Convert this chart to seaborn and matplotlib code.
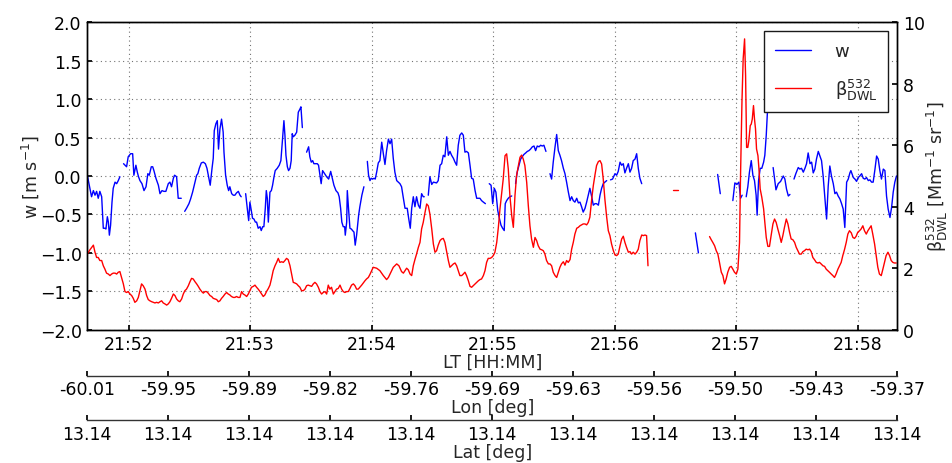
import numpy as np
import pandas as pd
import matplotlib
matplotlib.use("Agg")
import matplotlib.pyplot as plt
from matplotlib.lines import Line2D
import seaborn as sns

nan = np.nan

# vertical wind w [m s-1]; time in seconds after 21:51:00 LT, NaN marks a data gap
w_time = [
    39.6, 41.7, 42.6, 43.4, 44.2, 45.0, 45.8, 46.7, 47.5, 48.3, 48.8, 49.5, 50.0, 50.5, 51.1, 51.8,
    52.4, 53.3, 54.1, 54.9, 55.7, 56.6,
    57.5, 59.0, 59.8, 61.0, 62.0, 62.6, 63.6, 64.3, 64.9, 65.6, 66.6, 67.6, 68.6, 69.5, 70.2, 71.2,
    71.9, 72.5, 73.5, 74.7, 75.5, 76.5, 77.4, 78.4, 79.6, 80.4, 81.2, 82.1, 82.7, 83.7, 84.5, 85.3,
    86.0, 86.8,
    87.7, 88.6, 89.8, 90.6, 91.6, 92.6, 93.6, 94.2, 94.9, 95.9, 96.9, 97.9, 98.7, 99.5, 100.3, 101.2,
    101.8, 102.3, 103.1, 103.8, 104.4, 105.1, 105.9, 106.7, 107.1, 107.9, 108.7, 109.4, 110.0, 110.9,
    111.7, 112.5, 113.3, 114.2, 115.0, 115.6, 116.7,
    117.8, 118.6, 119.3, 119.9, 120.6, 121.2, 121.9, 122.6, 123.2, 124.0, 124.9, 125.5, 126.2, 126.8,
    127.5, 128.0, 128.5, 129.0, 129.8, 130.5, 131.1, 131.8, 132.4, 133.4, 134.4, 135.2, 135.9, 136.7,
    137.2, 137.7, 138.4, 139.0, 139.7, 140.3, 140.8, 141.3, 142.1, 143.0, 143.8, 144.6, 145.1, 145.8,
    146.8,
    147.9, 148.9, 149.5, 150.2, 150.9, 151.5, 152.2, 153.2, 153.8, 154.5, 155.1, 155.8, 156.8, 157.8,
    158.8, 159.8, 160.6, 161.4, 162.4, 163.4, 164.0, 164.7, 165.3, 166.0, 166.7, 167.0, 167.7, 168.0,
    168.6, 169.3, 170.0, 170.6, 171.3, 171.9, 172.6, 173.6, 174.2, 175.2, 176.2, 177.0,
    177.9, 178.5, 179.2, 179.8, 180.5, 181.2, 181.8, 182.5, 183.3, 184.1, 185.0, 185.8, 186.6, 187.4,
    188.3, 189.1, 189.9, 190.7, 191.5, 192.4, 194.0, 194.8, 195.7, 196.5, 197.6, 198.3, 199.1, 199.8,
    200.6, 201.4, 202.2, 203.1, 203.9, 204.7, 205.5, 206.0, 207.0,
    208.0, 208.8, 209.7, 210.5, 212.1, 212.9, 213.8, 214.6, 215.4, 216.2, 217.1, 217.9, 218.7, 219.5,
    220.4, 221.2, 222.0, 222.8, 223.6, 224.5, 225.3, 226.1, 226.9, 227.8, 228.6, 229.4, 230.2, 231.1,
    231.9, 232.7, 233.5, 234.3, 235.2, 236.2, 237.1,
    238.1, 239.0, 239.8, 240.6, 241.4, 242.3, 243.1, 243.9, 244.7, 245.5, 246.0, 246.7, 247.5, 248.3,
    249.2, 250.1,
    251.1, 251.9, 252.8, 253.6, 254.4, 255.2, 256.1, 256.9, 257.7, 258.5, 259.4, 260.2, 261.0, 261.8,
    262.7, 263.5, 264.3, 265.1, 266.1, 267.1,
    268.1, 268.9, 269.7, 270.6, 271.4, 272.2, 273.0, 273.8, 274.7, 275.5, 276.3, 277.1, 278.0, 278.8,
    279.6, 280.4, 281.3, 282.1, 282.9, 283.7, 284.5, 285.4, 286.2, 287.0, 287.8, 288.7, 289.5, 290.3,
    291.1, 292.0, 292.8, 293.6, 294.4, 295.2, 296.1, 297.0,
    298.0, 299.0, 300.2, 301.0, 301.8, 302.7, 303.5, 304.3, 305.1, 305.9, 306.8, 307.6, 308.4, 309.2,
    310.1, 310.9, 311.7, 312.5, 313.4, 320.0,
    339.9, 341.4, 346.0,
    350.9, 352.2, 355.0,
    358.4, 359.4, 360.4, 361.4, 362.2, 363.0, 364.0,
    365.0, 365.8, 366.6, 367.5, 368.3, 369.1, 369.9, 370.4, 371.1, 371.9, 372.7, 373.6, 374.2, 374.9,
    375.4, 376.0, 376.7, 377.5,
    378.3, 379.7, 380.8, 382.0, 383.3, 384.1, 384.9, 385.8, 386.6, 387.6,
    388.6, 389.5, 390.7, 391.5, 392.3, 393.2, 394.0, 394.8, 395.6, 396.5, 397.3, 398.1, 398.9, 399.7,
    400.6, 401.4, 402.2, 403.0, 403.9, 404.7, 405.5, 406.3, 407.1, 408.0, 408.8, 409.6, 410.4, 411.3,
    412.1, 412.9, 413.7, 414.6, 415.4, 416.2, 416.7, 417.9, 418.7, 419.5, 420.3, 421.1, 422.0, 422.8,
    423.6, 424.4, 425.3, 426.1, 426.9, 427.7, 428.6, 429.4, 430.2, 431.0, 431.8, 432.7, 433.5, 434.3,
    435.1, 436.0, 436.8, 437.6, 438.4, 439.2,
]
w_vals = [
    0.01, -0.27, -0.19, -0.25, -0.20, -0.29, -0.20, -0.27, -0.68, -0.68, -0.69, -0.53, -0.60, -0.77, -0.64, -0.34,
    -0.16, -0.08, -0.10, -0.06, -0.01, nan,
    0.16, 0.12, 0.25, 0.29, 0.29, 0.01, 0.14, 0.05, -0.01, -0.06, -0.10, -0.19, -0.14, 0.03, 0.01, 0.12,
    0.12, 0.07, -0.03, -0.12, -0.23, -0.19, -0.20, -0.20, -0.10, -0.08, -0.14, -0.03, 0.01, -0.01, -0.29, -0.29,
    -0.29, nan,
    -0.46, -0.42, -0.36, -0.30, -0.21, -0.10, 0.01, 0.03, 0.10, 0.17, 0.18, 0.16, 0.10, -0.01, -0.12, 0.10,
    0.23, 0.59, 0.68, 0.72, 0.35, 0.61, 0.74, 0.57, 0.31, 0.01, -0.12, -0.19, -0.14, -0.23,
    -0.25, -0.25, -0.22, -0.20, -0.25, -0.27, nan,
    -0.23, -0.42, -0.58, -0.34, -0.45, -0.55, -0.56, -0.60, -0.60, -0.68, -0.66, -0.71, -0.66, -0.66,
    -0.42, -0.19, -0.29, -0.60, -0.21, -0.19, -0.12, -0.01, 0.07, 0.10, 0.14, 0.20, 0.44, 0.72,
    0.53, 0.27, 0.12, 0.07, 0.10, 0.20, 0.55, 0.51, 0.53, 0.57, 0.83, 0.87, 0.90, 0.63,
    nan,
    0.31, 0.38, 0.25, 0.18, 0.20, 0.16, 0.16, 0.16, 0.14, 0.01, -0.10, 0.07, 0.03, -0.01,
    -0.04, 0.06, -0.03, -0.12, -0.19, -0.22, -0.27, -0.42, -0.60, -0.66, -0.66, -0.77, -0.60, -0.19,
    -0.42, -0.68, -0.69, -0.71, -0.73, -0.90, -0.77, -0.51, -0.40, -0.25, -0.14, nan,
    0.19, 0.01, -0.06, -0.03, -0.04, -0.03, -0.04, 0.05, 0.17, 0.20, 0.44, 0.29, 0.15, 0.33,
    0.48, 0.42, 0.48, 0.23, 0.05, -0.06, -0.10, -0.14, -0.29, -0.42, -0.42, -0.55, -0.68, -0.42,
    -0.27, -0.40, -0.27, -0.38, -0.42, -0.23, -0.27, -0.27, nan,
    -0.25, -0.01, -0.11, -0.08, -0.09, -0.06, 0.14, 0.16, 0.27, 0.25, 0.51, 0.27, 0.32, 0.27,
    0.23, 0.18, 0.14, 0.40, 0.53, 0.56, 0.53, 0.31, 0.32, 0.30, 0.14, -0.03, -0.04, -0.19,
    -0.29, -0.29, -0.29, -0.32, -0.34, -0.36, nan,
    -0.10, -0.12, -0.36, -0.16, -0.21, -0.45, -0.55, -0.64, -0.68, -0.71, -0.36, -0.32, -0.29, -0.27,
    -0.26, nan,
    -0.10, 0.05, 0.14, 0.22, 0.25, 0.28, 0.30, 0.32, 0.33, 0.35, 0.38, 0.39, 0.33, 0.39,
    0.38, 0.40, 0.39, 0.40, 0.32, nan,
    0.03, -0.04, 0.18, 0.38, 0.54, 0.33, 0.27, 0.20, 0.10, 0.03, -0.08, -0.20, -0.32, -0.27,
    -0.32, -0.34, -0.29, -0.35, -0.34, -0.40, -0.47, -0.42, -0.34, -0.25, -0.16, -0.27, -0.38, -0.36,
    -0.36, -0.38, -0.25, -0.16, -0.10, -0.08, -0.06, nan,
    -0.05, -0.04, 0.03, 0.01, 0.06, 0.18, 0.14, 0.16, 0.04, 0.10, 0.16, 0.05, 0.10, 0.20,
    0.22, 0.29, 0.10, -0.03, -0.10, nan,
    -0.74, -1.00, nan,
    0.02, -0.23, nan,
    -0.32, -0.09, -0.11, -0.08, -0.29, -0.25, nan,
    -0.27, -0.14, 0.05, 0.20, 0.01, -0.06, -0.25, -0.51, -0.06, 0.10, 0.10, 0.18, 0.27, 0.53,
    0.79, 1.09, 1.39, nan,
    0.11, -0.18, -0.10, -0.07, 0.00, -0.04, -0.17, -0.26, -0.24, nan,
    -0.04, 0.03, 0.11, 0.09, 0.10, 0.05, 0.10, 0.16, 0.30, 0.16, 0.18, 0.04, 0.09, 0.22,
    0.32, 0.26, 0.20, 0.00, -0.30, -0.56, -0.13, 0.13, 0.00, -0.10, -0.23, -0.21, -0.26, -0.30,
    -0.36, -0.43, -0.67, -0.08, -0.04, 0.04, 0.07, -0.02, -0.04, -0.07, -0.02, 0.00, 0.03, -0.03,
    -0.04, -0.02, -0.06, -0.05, -0.08, -0.08, 0.09, 0.26, 0.22, 0.07, -0.04, 0.09, 0.07, -0.26,
    -0.43, -0.54, -0.41, -0.21, -0.08, 0.00,
]

# backscatter beta_DWL at 532 nm [Mm-1 sr-1]
beta_time = [
    39.6, 40.9, 42.6, 43.4, 44.2, 45.0, 45.8, 46.7, 47.5, 48.3, 49.1, 50.0, 50.8, 51.6, 52.4, 53.3,
    54.1, 54.9, 55.7, 56.5, 57.4, 58.2, 59.0, 59.8, 60.7, 61.5, 62.3, 63.1, 64.0, 64.8, 65.6, 66.4,
    67.2, 68.1, 68.9, 69.7, 70.5, 71.4, 72.2, 73.0, 73.8, 74.7, 75.5, 76.3, 77.1, 77.9, 78.8, 79.6,
    80.4, 81.2, 82.1, 82.9, 83.7, 84.5, 85.3, 86.2, 87.0, 87.8, 88.6, 89.5, 90.3, 91.1, 91.9, 92.8,
    93.6, 94.4, 95.2, 96.1, 96.9, 97.7, 98.5, 99.3, 100.2, 101.0, 101.8, 102.6, 103.5, 104.3, 105.1,
    105.9, 106.7, 107.6, 108.4, 109.2, 110.0, 110.8, 111.7, 112.5, 113.3, 114.1, 115.0, 115.8, 116.6,
    117.4, 118.3, 119.1, 119.9, 120.7, 121.6, 122.4, 123.2, 124.0, 124.9, 125.7, 126.5, 127.3, 128.1,
    129.0, 129.8, 130.6, 131.4, 132.3, 133.1, 133.9, 134.7, 135.6, 136.4, 137.2, 138.0, 138.8, 139.7,
    140.5, 141.3, 142.1, 143.0, 143.8, 144.6, 145.4, 146.3, 147.1, 147.9, 148.7, 149.5, 150.4, 151.2,
    152.0, 152.8, 153.7, 154.5, 155.3, 156.1, 157.0, 157.8, 158.6, 159.4, 160.2, 161.1, 161.9, 162.7,
    163.5, 164.4, 165.2, 166.0, 166.8, 167.7, 168.5, 169.3, 170.1, 171.0, 171.8, 172.6, 173.4, 174.2,
    175.1, 175.9, 176.7, 177.5, 178.4, 179.2, 180.8, 182.5, 184.1, 185.8, 187.4, 188.3, 189.1, 190.7,
    192.4, 193.5, 194.8, 195.7, 196.5, 197.3, 198.1, 199.0, 199.8, 200.6, 201.4, 202.2, 203.1, 203.9,
    204.7, 205.5, 206.4, 207.2, 208.0, 208.8, 209.7, 210.5, 211.3, 212.1, 212.9, 213.8, 214.6, 215.4,
    216.2, 217.1, 217.9, 218.7, 219.5, 220.4, 221.2, 222.0, 222.8, 223.6, 224.5, 225.3, 226.1, 226.9,
    227.8, 228.6, 229.4, 230.2, 231.1, 231.9, 232.7, 233.5, 234.3, 235.2, 236.0, 236.8, 237.6, 238.5,
    239.3, 240.1, 240.9, 241.8, 242.6, 243.4, 244.2, 245.0, 245.9, 246.7, 247.5, 248.3, 249.2, 250.0,
    250.8, 251.6, 252.5, 253.3, 254.1, 254.9, 255.7, 256.6, 257.4, 258.2, 259.0, 259.9, 260.7, 261.5,
    262.3, 263.2, 264.0, 264.8, 265.6, 266.4, 267.3, 268.1, 268.9, 269.7, 270.6, 271.4, 272.2, 273.0,
    273.8, 274.7, 275.5, 276.3, 277.1, 278.0, 278.8, 279.6, 280.4, 281.3, 282.1, 282.9, 283.7, 284.5,
    285.4, 286.2, 287.0, 287.8, 288.7, 289.5, 290.3, 291.1, 292.0, 292.8, 293.6, 294.4, 295.2, 296.1,
    296.9, 297.7, 298.5, 299.4, 300.2, 301.0, 301.8, 302.7, 303.5, 304.3, 305.1, 305.9, 306.8, 307.6,
    308.4, 309.2, 310.1, 310.9, 311.7, 312.5, 313.4, 314.2, 315.0, 315.8, 316.5, 320.0,
    329.0, 331.5, 340.0,
    346.9, 347.7, 348.5, 349.4, 350.2, 351.0, 351.8, 352.7, 353.5, 354.3, 355.1, 355.9, 356.8, 357.6,
    358.4, 359.2, 360.1, 360.9, 361.7, 362.2, 362.9, 363.5, 364.2, 364.7, 365.2, 365.8, 366.3, 367.0,
    367.5, 368.0, 368.6, 369.1, 369.6, 370.1, 370.8, 371.3, 371.9, 372.7, 373.6, 374.2, 374.9, 375.7,
    376.5, 377.3, 378.2, 379.0, 379.8, 380.6, 381.5, 382.3, 383.1, 383.9, 384.8, 385.6, 386.4, 387.2,
    388.0, 388.9, 389.7, 390.5, 391.3, 392.2, 393.0, 393.8, 394.6, 395.5, 396.3, 397.1, 397.9, 398.7,
    399.6, 400.4, 401.2, 402.0, 402.9, 403.7, 404.5, 405.3, 406.1, 407.0, 407.8, 408.6, 409.4, 410.3,
    411.1, 411.9, 412.7, 413.6, 414.4, 415.2, 416.0, 416.9, 417.7, 418.5, 419.3, 420.1, 421.0, 421.8,
    422.6, 423.4, 424.3, 425.1, 425.9, 426.7, 427.5, 428.4, 429.2, 430.0, 430.8, 431.7, 432.5, 433.3,
    434.1, 435.0, 435.8, 436.6, 437.4, 438.2, 439.1,
]
beta_vals = [
    2.46, 2.60, 2.75, 2.52, 2.35, 2.35, 2.25, 2.25, 2.08, 1.97, 1.84, 1.81, 1.76, 1.81, 1.84, 1.84,
    1.81, 1.87, 1.89, 1.70, 1.49, 1.24, 1.21, 1.24, 1.16, 1.11, 1.02, 0.89, 0.94, 1.05, 1.27, 1.49,
    1.43, 1.32, 1.11, 0.98, 0.94, 0.91, 0.89, 0.87, 0.89, 0.87, 0.91, 0.94, 0.87, 0.84, 0.80, 0.84,
    0.91, 1.02, 1.16, 1.11, 1.00, 0.94, 0.91, 1.00, 1.16, 1.27, 1.32, 1.43, 1.56, 1.67, 1.65, 1.56,
    1.49, 1.41, 1.32, 1.24, 1.19, 1.24, 1.24, 1.19, 1.11, 1.08, 1.02, 1.00, 0.98, 0.91, 0.94,
    1.02, 1.08, 1.16, 1.21, 1.16, 1.13, 1.08, 1.05, 1.05, 1.08, 1.05, 1.05, 1.24, 1.16,
    1.13, 1.08, 1.16, 1.27, 1.38, 1.41, 1.45, 1.38, 1.32, 1.24, 1.16, 1.08, 1.13, 1.24,
    1.34, 1.45, 1.67, 1.92, 2.08, 2.19, 2.32, 2.19, 2.21, 2.19, 2.25, 2.32, 2.28, 2.08,
    1.81, 1.54, 1.52, 1.49, 1.43, 1.38, 1.27, 1.27, 1.32, 1.43, 1.45, 1.43, 1.41, 1.49,
    1.54, 1.49, 1.38, 1.24, 1.16, 1.21, 1.24, 1.16, 1.45, 1.32, 1.38, 1.16, 1.24, 1.32,
    1.34, 1.45, 1.32, 1.24, 1.21, 1.24, 1.24, 1.34, 1.45, 1.49, 1.43, 1.32, 1.32, 1.38,
    1.45, 1.52, 1.59, 1.65, 1.70, 1.80, 2.03, 2.00, 1.92, 1.76, 1.63, 1.70, 1.81, 2.03,
    2.14, 2.08, 1.89, 1.84, 1.92, 2.00, 1.95, 1.81, 1.76, 2.08, 2.28, 2.46, 2.68, 2.84,
    3.28, 3.49, 3.82, 4.09, 4.03, 3.76, 3.28, 2.79, 2.52, 2.57, 2.75, 2.90, 2.95, 2.97,
    2.84, 2.52, 2.25, 2.03, 2.08, 2.14, 2.17, 2.08, 1.92, 1.76, 1.76, 1.81, 1.87, 1.76,
    1.59, 1.41, 1.38, 1.43, 1.49, 1.54, 1.59, 1.63, 1.65, 1.76, 1.92, 2.19, 2.32, 2.32,
    2.35, 2.41, 2.52, 2.84, 3.33, 3.93, 4.41, 4.90, 5.66, 5.72, 5.23, 4.36, 3.71, 3.33,
    4.36, 5.01, 5.34, 5.61, 5.68, 5.55, 5.34, 4.79, 4.03, 3.38, 2.95, 2.68, 3.00, 2.90,
    2.73, 2.62, 2.60, 2.57, 2.46, 2.25, 2.14, 2.14, 2.08, 1.87, 1.76, 1.70, 1.87, 2.03,
    2.14, 2.21, 2.10, 2.25, 2.19, 2.28, 2.62, 2.84, 3.11, 3.30, 3.33, 3.38, 3.41, 3.44,
    3.44, 3.41, 3.49, 3.66, 4.25, 4.69, 5.03, 5.34, 5.47, 5.50, 5.39, 4.90, 4.25, 3.66,
    3.22, 3.06, 2.79, 2.57, 2.43, 2.41, 2.46, 2.73, 2.95, 3.04, 2.84, 2.68, 2.52, 2.54,
    2.46, 2.52, 2.46, 2.52, 2.62, 2.90, 3.08, 3.06, 3.08, 3.06, 2.08, nan,
    4.54, 4.54, nan,
    3.03, 2.93, 2.84, 2.73, 2.57, 2.46, 2.19, 1.87, 1.76, 1.49, 1.65, 1.87, 2.03, 2.06,
    1.97, 1.87, 1.81, 1.97, 2.84, 5.01, 7.40, 8.81, 9.46, 8.26, 5.93, 5.93, 6.15, 6.64,
    6.69, 6.85, 7.29, 6.85, 6.53, 5.88, 5.66, 5.23, 4.58, 4.31, 3.93, 3.49, 3.00, 2.71,
    2.71, 3.06, 3.44, 3.60, 3.49, 3.28, 3.06, 2.84, 3.06, 3.33, 3.60, 3.44, 3.17, 2.95,
    2.93, 2.84, 2.68, 2.57, 2.46, 2.46, 2.54, 2.57, 2.62, 2.60, 2.62, 2.54, 2.35, 2.28,
    2.19, 2.17, 2.19, 2.14, 2.08, 2.06, 1.97, 1.92, 1.87, 1.81, 1.76, 1.70, 1.81, 1.97,
    2.08, 2.19, 2.41, 2.62, 2.84, 3.11, 3.22, 3.15, 3.00, 2.97, 3.04, 3.17, 3.22, 3.28,
    3.38, 3.22, 3.11, 3.22, 3.30, 3.38, 3.11, 2.79, 2.41, 2.03, 1.81, 1.76, 1.97, 2.19,
    2.41, 2.52, 2.41, 2.25, 2.19, 2.17, 2.17,
]

time_ticks = ["21:52", "21:53", "21:54", "21:55", "21:56", "21:57", "21:58"]
lon_labels = ["-60.01", "-59.95", "-59.89", "-59.82", "-59.76", "-59.69",
              "-59.63", "-59.56", "-59.50", "-59.43", "-59.37"]
lat_labels = ["13.14"] * 11


def split_segments(t, v):
    """Frame with a segment id that increases at every NaN gap."""
    df = pd.DataFrame({"t": t, "v": v})
    df["seg"] = df["v"].isna().cumsum()
    return df.dropna()


FS = 12.5
sns.set_theme(style="white")
plt.rcParams.update({
    "font.family": ["DejaVu Sans"],
    "font.size": FS,
    "axes.edgecolor": "black",
    "axes.linewidth": 1.0,
    "xtick.direction": "in",
    "ytick.direction": "in",
    "xtick.color": "black",
    "ytick.color": "black",
    "xtick.major.size": 3.5,
    "ytick.major.size": 3.5,
    "xtick.labelsize": FS,
    "ytick.labelsize": FS,
    "axes.labelsize": FS,
    "mathtext.fontset": "dejavusans",
})

fig = plt.figure(figsize=(9.52, 4.64), dpi=100)
ax = fig.add_axes([0.0917, 0.2873, 0.8508, 0.6625])

w_df = split_segments(w_time, w_vals)
b_df = split_segments(beta_time, beta_vals)

sns.lineplot(data=w_df, x="t", y="v", units="seg", estimator=None, sort=False,
             color="#0000ff", lw=1.0, ax=ax, legend=False)
ax.set_xlim(39.6, 439.6)
ax.set_ylim(-2.0, 2.0)
ax.set_yticks(np.arange(-2.0, 2.01, 0.5))
ax.set_yticklabels([f"{v:.1f}".replace("-", "\u2212") for v in np.arange(-2.0, 2.01, 0.5)])
tick_pos = [(int(s[3:]) - 51) * 60 for s in time_ticks]
ax.set_xticks(tick_pos)
ax.set_xticklabels(time_ticks)
ax.tick_params(axis="x", pad=3.5)
ax.tick_params(axis="y", pad=4)
ax.set_xlabel("LT [HH:MM]", labelpad=0)
ax.set_ylabel(r"w [m s$^{-1}$]", labelpad=-1)
ax.grid(True, linestyle=(0, (1, 3)), color="0.45", linewidth=0.8)

ax2 = ax.twinx()
sns.lineplot(data=b_df, x="t", y="v", units="seg", estimator=None, sort=False,
             color="#ff0000", lw=1.0, ax=ax2, legend=False)
ax2.set_ylim(0, 10)
ax2.set_yticks(range(0, 11, 2))
ax2.set_xlim(39.6, 439.6)
ax2.grid(False)
ax2.tick_params(axis="y", pad=4)
ax2.set_ylabel(r"$\mathrm{\beta}^{532}_{\mathrm{DWL}}$ [Mm$^{-1}$ sr$^{-1}$]", labelpad=0)

handles = [Line2D([], [], color="#0000ff", lw=1.0), Line2D([], [], color="#ff0000", lw=1.0)]
leg = ax2.legend(handles, ["w", r"$\mathrm{\beta}^{532}_{\mathrm{DWL}}$"], loc="upper right",
                 fontsize=13, frameon=True, fancybox=False, framealpha=1.0,
                 borderaxespad=0.5, borderpad=0.6, handlelength=2.0,
                 handletextpad=1.3, labelspacing=0.9)
leg.get_frame().set_edgecolor("0.1")
leg.get_frame().set_linewidth(1.0)

# longitude and latitude axes hung below the time axis (offsets in points)
for outward, labels, name in [(33, lon_labels, "Lon [deg]"), (65, lat_labels, "Lat [deg]")]:
    axx = ax.twiny()
    axx.set_xlim(0, 1)
    axx.spines["bottom"].set_position(("outward", outward))
    axx.spines["bottom"].set_color("0.2")
    for side in ("top", "left", "right"):
        axx.spines[side].set_visible(False)
    axx.xaxis.set_ticks_position("bottom")
    axx.xaxis.set_label_position("bottom")
    axx.set_xticks(np.linspace(0, 1, len(labels)))
    axx.set_xticklabels(labels)
    axx.tick_params(axis="x", direction="in", pad=3.5, length=3.5)
    axx.set_xlabel(name, labelpad=0)
    axx.grid(False)
    axx.patch.set_visible(False)

fig.savefig("out.png", dpi=100)
